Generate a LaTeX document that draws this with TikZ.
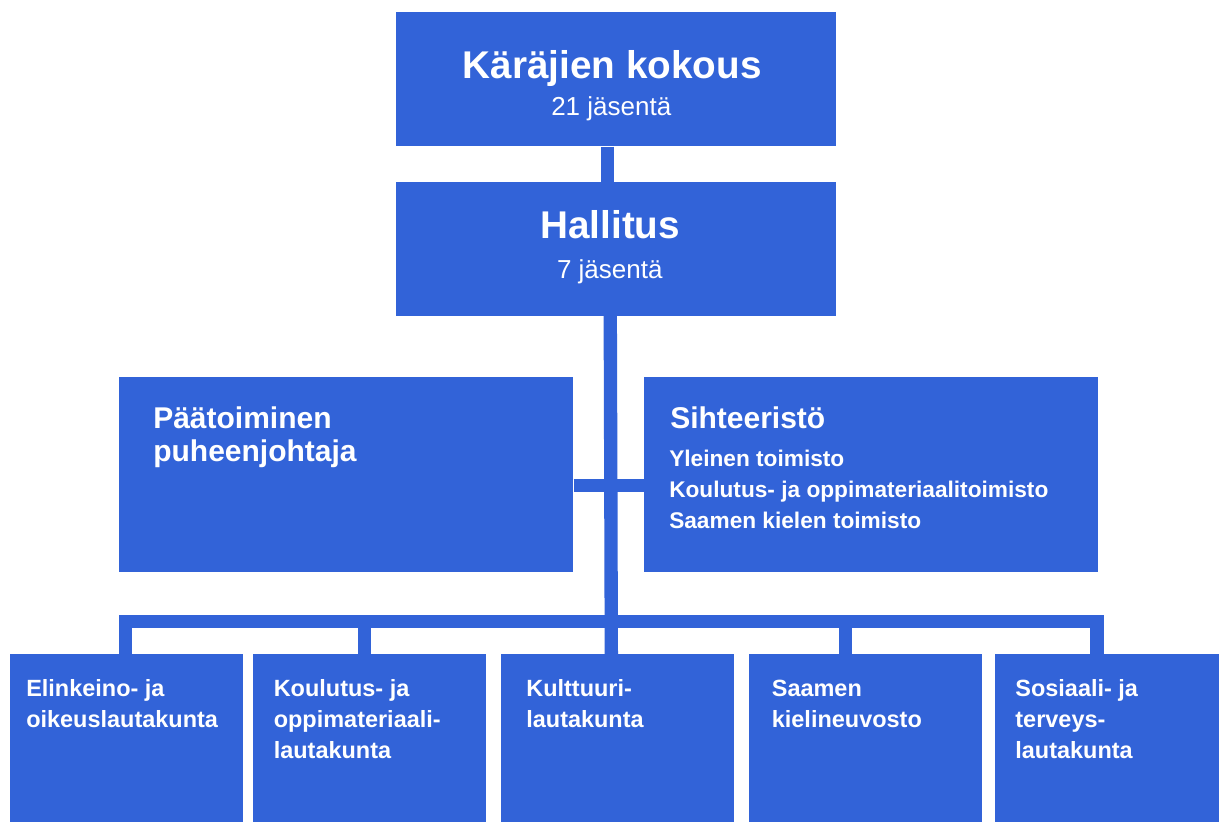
\documentclass[tikz,border=0pt]{standalone}
\usepackage{fontspec}
\setmainfont{Liberation Sans}
\usetikzlibrary{positioning}
\definecolor{orgblue}{RGB}{50,99,216}

\tikzset{
  org/.style={fill=orgblue, inner sep=0pt, anchor=north west},
  bigorg/.style={org, minimum width=330pt, minimum height=100.5pt},
  midorg/.style={org, minimum width=340.5pt, minimum height=146.25pt},
  lautak/.style={org, minimum width=174.75pt, minimum height=132pt},
  link/.style={draw=orgblue, line width=10pt},
  txt/.style={text=white, inner sep=0pt, align=left, anchor=base west},
  title/.style={txt, anchor=base, font=\bfseries\fontsize{29pt}{35pt}\selectfont},
  sub/.style={txt, anchor=base, font=\fontsize{19.5pt}{23pt}\selectfont},
  head/.style={txt, font=\bfseries\fontsize{22.5pt}{24.75pt}\selectfont},
  item/.style={txt, font=\bfseries\fontsize{17pt}{22.9pt}\selectfont},
  lauta/.style={txt, font=\bfseries\fontsize{17.6pt}{23.25pt}\selectfont}
}

\begin{document}
\begin{tikzpicture}[x=0.75pt, y=-0.75pt]
\useasboundingbox (0,0) rectangle (1219,821);
\clip (0,0) rectangle (1219,821);
% Define nodes
% Top boxes
\node[bigorg] (kok) at (396,12) {};
\node[bigorg, below=26.25pt of kok] (hal) {};
\node[midorg] (pj) at (119,377) {};
\node[midorg] (siht) at (644,377) {};
% Lautakunnat
\node[lautak] (elin) at (10,654) {};
\node[lautak, right=6.75pt of elin] (kou) {};
\node[lautak, right=11.25pt of kou] (kult) {};
\node[lautak, right=10.5pt of kult] (saam) {};
\node[lautak, right=9.75pt of saam] (sos) {};

% Edges
\draw[link] ([xshift=-6.375pt]kok.south) -- ([xshift=-6.375pt]hal.north);
\draw[link] ([xshift=-4.5pt]hal.south) -- ([xshift=-4.875pt]kult.north);
\draw[link] ([yshift=-8.25pt]pj.east) -- ([yshift=-8.25pt]siht.west);
\draw[link] ([xshift=-0.75pt]elin.north) -- ++(0,-32.5) -| ([xshift=-11.25pt]sos.north);
\draw[link] ([xshift=-3.75pt]kou.north) -- ++(0,-32.5);
\draw[link] ([xshift=-15pt]saam.north) -- ++(0,-32.5);

% Texts (base = last line)
\node[title] (kokT) at ([shift={(-4,66)}]kok.north) {Käräjien kokous};
\node[sub] (kokS) at ([shift={(-5,103)}]kok.north) {21 jäsentä};
\node[title] (halT) at ([shift={(-6,57)}]hal.north) {Hallitus};
\node[sub] (halS) at ([shift={(-6.5,97)}]hal.north) {7 jäsentä};
\node[head] (pjT) at ([shift={(34,84)}]pj.north west) {Päätoiminen\\puheenjohtaja};
\node[head] (sihtT) at ([shift={(26,51)}]siht.north west) {Sihteeristö};
\node[item] (sihtL) at ([shift={(25,151)}]siht.north west) {Yleinen toimisto\\Koulutus- ja oppimateriaalitoimisto\\Saamen kielen toimisto};
\node[lauta] (elinT) at ([shift={(16,73)}]elin.north west) {Elinkeino- ja\\oikeuslautakunta};
\node[lauta] (kouT) at ([shift={(21,104)}]kou.north west) {Koulutus- ja\\oppimateriaali-\\lautakunta};
\node[lauta] (kultT) at ([shift={(25,73)}]kult.north west) {Kulttuuri-\\lautakunta};
\node[lauta] (saamT) at ([shift={(23,73)}]saam.north west) {Saamen\\kielineuvosto};
\node[lauta] (sosT) at ([shift={(20,104)}]sos.north west) {Sosiaali- ja\\terveys-\\lautakunta};
\end{tikzpicture}
\end{document}
